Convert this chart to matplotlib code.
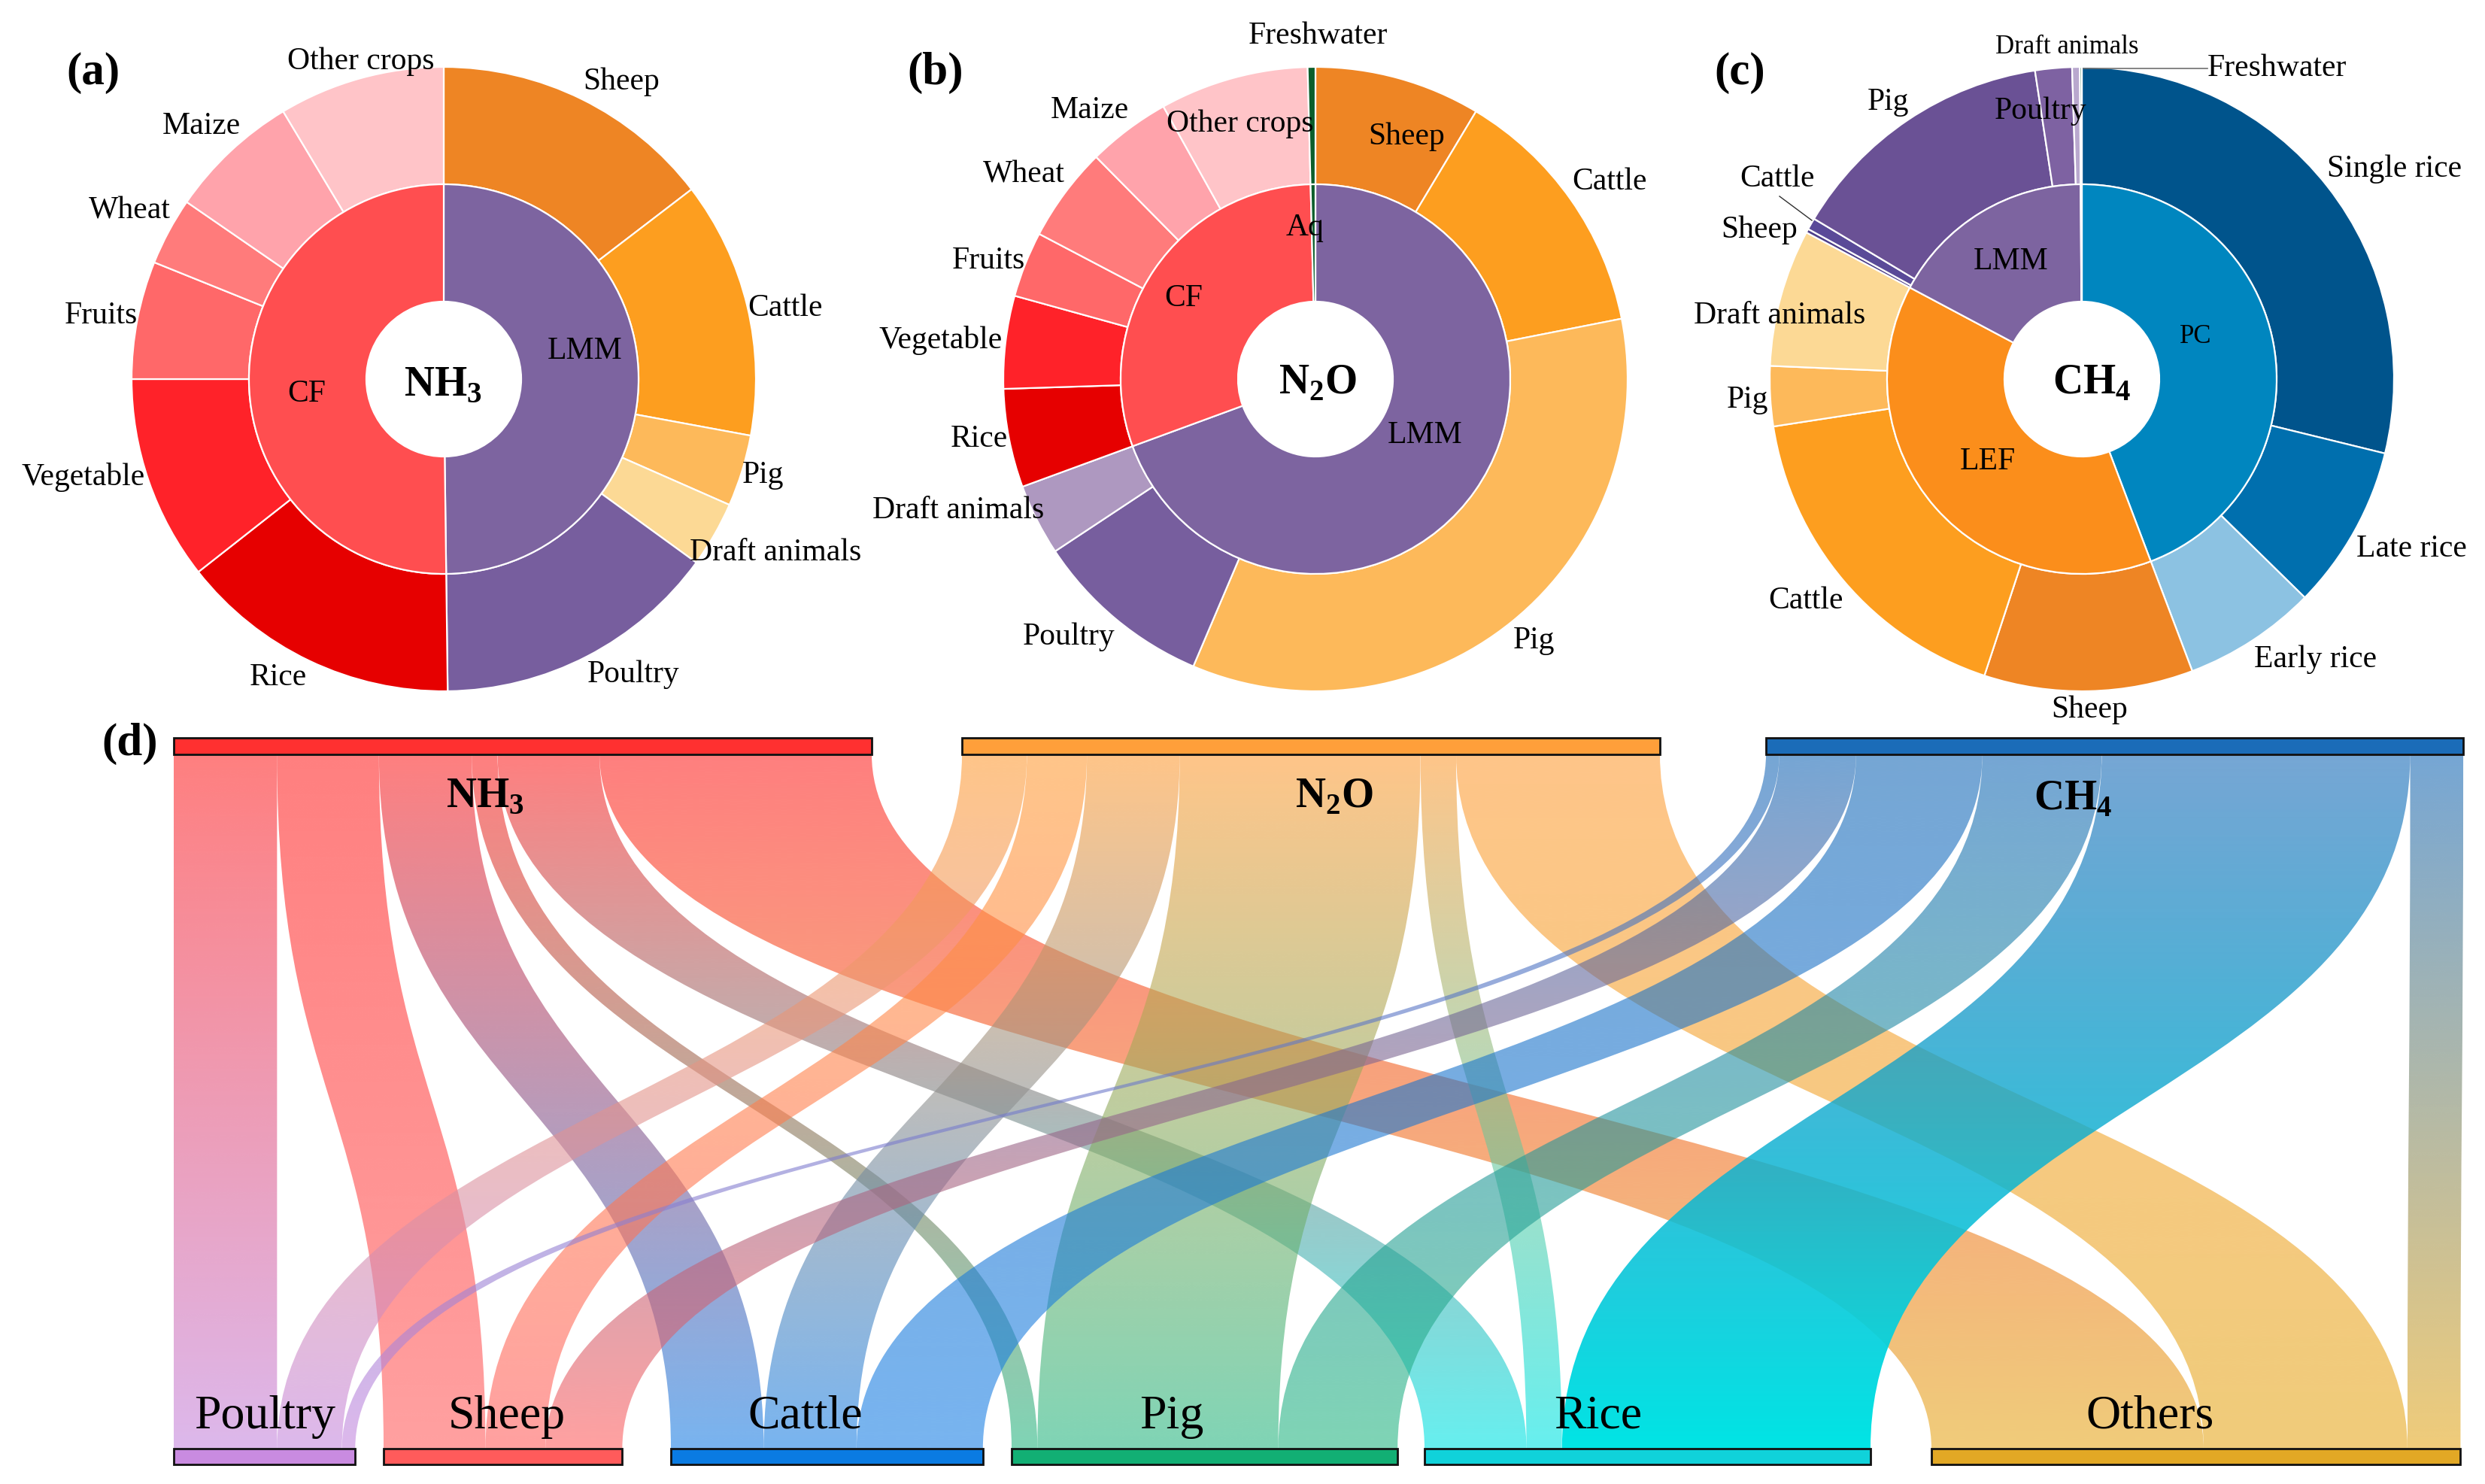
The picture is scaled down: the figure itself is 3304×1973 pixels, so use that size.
import numpy as np
import matplotlib.pyplot as plt
from matplotlib.path import Path
from matplotlib.patches import PathPatch, Rectangle
from matplotlib.colors import to_rgb

plt.rcParams['font.family'] = 'Liberation Serif'
plt.rcParams['mathtext.fontset'] = 'custom'
plt.rcParams['mathtext.rm'] = 'Liberation Serif'
plt.rcParams['mathtext.bf'] = 'Liberation Serif:bold'

# (a) NH3 source shares, %
a_inner = ['LMM', 'CF']
a_inner_vals = [49.8, 50.2]
a_outer = ['Sheep', 'Cattle', 'Pig', 'Draft animals', 'Poultry',
           'Rice', 'Vegetable', 'Fruits', 'Wheat', 'Maize', 'Other crops']
a_outer_vals = [14.6, 13.3, 3.7, 3.4, 14.8, 14.6, 10.6, 6.1, 3.5, 6.8, 8.6]

# (b) N2O source shares, %
b_inner = ['LMM', 'CF', 'Aq']
b_inner_vals = [69.4, 30.2, 0.4]
b_outer = ['Sheep', 'Cattle', 'Pig', 'Poultry', 'Draft animals',
           'Rice', 'Vegetable', 'Fruits', 'Wheat', 'Maize', 'Other crops', 'Freshwater']
b_outer_vals = [8.6, 13.3, 34.5, 9.3, 3.7, 5.1, 4.8, 3.4, 4.9, 4.3, 7.7, 0.4]

# (c) CH4 source shares, %
c_inner = ['PC', 'LEF', 'LMM', 'Aq']
c_inner_vals = [44.2, 38.5, 17.1, 0.1]
c_outer = ['Single rice', 'Late rice', 'Early rice', 'Sheep', 'Cattle', 'Pig', 'Draft animals',
           'Sheep', 'Cattle', 'Pig', 'Poultry', 'Draft animals', 'Freshwater']
c_outer_vals = [28.8, 8.5, 6.9, 10.8, 17.5, 3.1, 7.1, 0.2, 0.6, 14.0, 1.9, 0.4, 0.1]

# (d) sankey nodes
gases = ['NH$_\\mathbf{3}$', 'N$_\\mathbf{2}$O', 'CH$_\\mathbf{4}$']
groups = ['Poultry', 'Sheep', 'Cattle', 'Pig', 'Rice', 'Others']

# colours
a_inner_cols = ['#7D64A0', '#FF4E50']
a_outer_cols = ['#EE8524', '#FD9E1F', '#FDB95A', '#FCD995', '#775E9E',
                '#E60000', '#FF2229', '#FF6869', '#FF7B7B', '#FFA3AB', '#FFC4C8']
b_inner_cols = ['#7D64A0', '#FF4E50', '#0B5E2B']
b_outer_cols = ['#EE8524', '#FD9E1F', '#FDB95A', '#775E9E', '#AE98C0',
                '#E60000', '#FF2229', '#FF6869', '#FF7B7B', '#FFA3AB', '#FFC4C8', '#0B5E2B']
c_inner_cols = ['#0086BF', '#FB8E1B', '#7D64A0', '#0B5E2B']
c_outer_cols = ['#00548C', '#006FAE', '#8CC2E2', '#EE8524', '#FD9E1F', '#FDB95A', '#FCD995',
                '#4E3F8A', '#5A4A98', '#6A5195', '#7E62A2', '#B9A8CE', '#0B5E2B']
gas_cols = ['#FF2A2A', '#FF9F3A', '#1A6BB8']
gas_bar_cols = ['#FF3030', '#FF9F3A', '#1B6CB8']
group_cols = ['#C689DF', '#FF6161', '#1E82E6', '#2AB884', '#00E5E5', '#E6AA21']
group_bar_cols = ['#C98BE0', '#FF5B5B', '#0A7BE2', '#12AF74', '#10D2DA', '#E2A825']

W, H = 3305, 1973
fig = plt.figure(figsize=(W / 100, H / 100), dpi=100)
ax = fig.add_axes([0, 0, 1, 1])


def donut(cx, cy, inner_vals, inner_cols, outer_vals, outer_cols):
    kw = dict(startangle=90, counterclock=False, center=(cx, H - cy))
    wp = dict(width=156, edgecolor='white', linewidth=1.6)
    ax.pie(outer_vals, radius=415, colors=outer_cols, wedgeprops=wp, **kw)
    ax.pie(inner_vals, radius=259, colors=inner_cols, wedgeprops=wp, **kw)


donut(590, 504, a_inner_vals, a_inner_cols, a_outer_vals, a_outer_cols)
donut(1749, 504, b_inner_vals, b_inner_cols, b_outer_vals, b_outer_cols)
donut(2768, 504, c_inner_vals, c_inner_cols, c_outer_vals, c_outer_cols)


def txt(s, x, y, size=30, **kw):
    ax.text(x, H - y, s, fontsize=size, ha='center', va='center', zorder=6, **kw)


labels_a = [('Other crops', 480, 82), ('Sheep', 826, 109), ('Maize', 268, 168),
            ('Wheat', 172, 280), ('Fruits', 134, 420), ('Cattle', 1044, 410),
            ('LMM', 778, 467), ('CF', 408, 524), ('Vegetable', 111, 635),
            ('Pig', 1014, 632), ('Draft animals', 1031, 735), ('Rice', 370, 901),
            ('Poultry', 842, 897)]
labels_b = [('Freshwater', 1752, 48), ('Maize', 1449, 147), ('Other crops', 1649, 165),
            ('Sheep', 1870, 182), ('Wheat', 1361, 232), ('Cattle', 2140, 242),
            ('Aq', 1735, 303), ('Fruits', 1314, 347), ('CF', 1574, 397),
            ('Vegetable', 1251, 453), ('LMM', 1895, 579), ('Rice', 1302, 584),
            ('Draft animals', 1274, 679), ('Poultry', 1421, 847), ('Pig', 2039, 852)]
labels_c = [('Freshwater', 3027, 91), ('Pig', 2510, 136), ('Poultry', 2713, 148),
            ('Single rice', 3184, 225), ('Cattle', 2363, 238), ('Sheep', 2339, 306),
            ('LMM', 2674, 348), ('Draft animals', 2366, 420), ('Pig', 2323, 532),
            ('LEF', 2643, 614), ('Late rice', 3206, 730), ('Cattle', 2401, 799),
            ('Early rice', 3079, 877), ('Sheep', 2778, 944)]
for s, x, y in labels_a + labels_b + labels_c:
    txt(s, x, y)
txt('Draft animals', 2748, 62, size=25)
txt('PC', 2919, 447, size=25)

# leader lines in (c)
ax.plot([2770, 2935], [H - 91, H - 91], color='#707070', lw=1.2, zorder=5)
ax.plot([2366, 2409], [H - 261, H - 293], color='#303030', lw=1.0, zorder=5)

txt('NH$_\\mathbf{3}$', 589, 512, size=40, fontweight='bold')
txt('N$_\\mathbf{2}$O', 1752, 509, size=40, fontweight='bold')
txt('CH$_\\mathbf{4}$', 2781, 509, size=40, fontweight='bold')
for s, x, y in [('(a)', 124, 97), ('(b)', 1244, 97), ('(c)', 2313, 97), ('(d)', 173, 989)]:
    txt(s, x, y, size=44, fontweight='bold')


# ---- (d) sankey: flows gas -> animal / crop group ----
def to_group(name):
    if name in groups:
        return name
    if 'rice' in name:
        return 'Rice'
    return 'Others'


flows = np.zeros((3, 6))
for i, (labs, vals) in enumerate([(a_outer, a_outer_vals), (b_outer, b_outer_vals),
                                  (c_outer, c_outer_vals)]):
    for lab, v in zip(labs, vals):
        flows[i, groups.index(to_group(lab))] += v

scale = 9.28
top_x0 = [231, 1279, 2348]
bot_x0 = [231, 510, 892, 1345, 1894, 2568]
bar_top = (981, 1003)
bar_bot = (1926, 1947)
y_t, y_b = H - bar_top[1], H - bar_bot[0]
y_m = (y_t + y_b) / 2

tx = np.array(top_x0)[:, None] + scale * (np.cumsum(flows, axis=1) - flows)
bx = np.array(bot_x0)[None, :] + scale * (np.cumsum(flows, axis=0) - flows)

t = np.linspace(0, 1, 256)[:, None, None]  # 0 = bottom, 1 = top
for i in range(3):
    for k in range(6):
        w = flows[i, k] * scale
        xt, xb = tx[i, k], bx[i, k]
        verts = [(xt, y_t), (xt, y_m), (xb, y_m), (xb, y_b), (xb + w, y_b),
                 (xb + w, y_m), (xt + w, y_m), (xt + w, y_t), (xt, y_t)]
        codes = [Path.MOVETO, Path.CURVE4, Path.CURVE4, Path.CURVE4, Path.LINETO,
                 Path.CURVE4, Path.CURVE4, Path.CURVE4, Path.CLOSEPOLY]
        patch = PathPatch(Path(verts, codes), facecolor='none', edgecolor='none')
        ax.add_patch(patch)
        c_top = np.array(to_rgb(gas_cols[i]))
        c_bot = np.array(to_rgb(group_cols[k]))
        rgb = c_bot * (1 - t) + c_top * t
        a_bot = 1.0 if (i == 2 and groups[k] == 'Rice') else 0.6
        alpha = a_bot * (1 - t) + 0.6 * t
        img = np.concatenate([rgb, alpha], axis=2)
        im = ax.imshow(img, extent=[min(xt, xb), max(xt, xb) + w, y_b, y_t], origin='lower',
                       aspect='auto', interpolation='bilinear', zorder=1)
        im.set_clip_path(patch)

for i in range(3):
    ax.add_patch(Rectangle((top_x0[i], H - bar_top[1]), flows[i].sum() * scale,
                           bar_top[1] - bar_top[0], facecolor=gas_bar_cols[i],
                           edgecolor='#111111', lw=2, zorder=3))
for k in range(6):
    ax.add_patch(Rectangle((bot_x0[k], H - bar_bot[1]), flows[:, k].sum() * scale,
                           bar_bot[1] - bar_bot[0], facecolor=group_bar_cols[k],
                           edgecolor='#111111', lw=2, zorder=3))

for s, x, y in zip(gases, [645, 1774, 2756], [1059, 1059, 1062]):
    txt(s, x, y, size=40, fontweight='bold')
for s, x in zip(groups, [352, 674, 1071, 1558, 2125, 2859]):
    txt(s, x, 1884, size=46)

ax.set_xlim(0, W)
ax.set_ylim(0, H)
ax.set_aspect('equal')
ax.axis('off')
fig.savefig('out.png', dpi=100, facecolor='white')
